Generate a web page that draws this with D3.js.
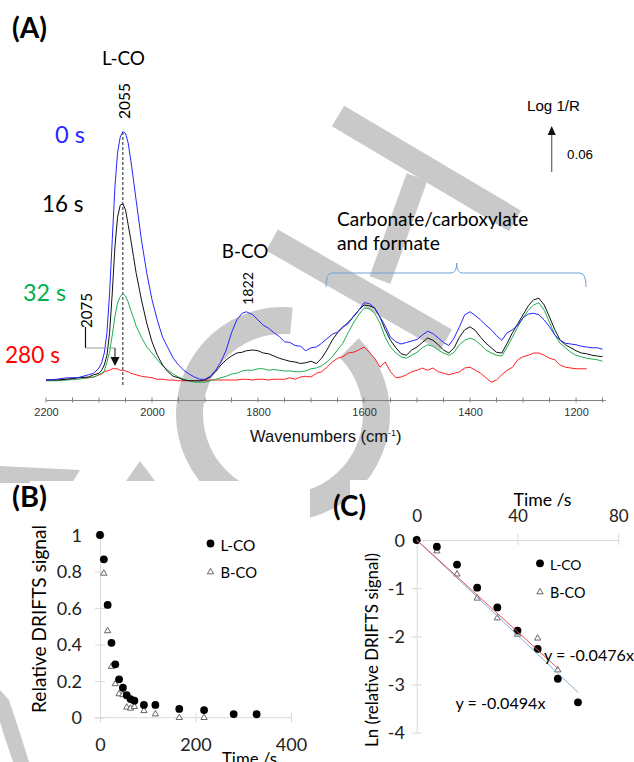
<!DOCTYPE html>
<html>
<head>
<meta charset="utf-8">
<script src="https://cdn.jsdelivr.net/npm/d3@7"></script>
<style>
  body { margin: 0; background: #fff; }
</style>
</head>
<body>
<svg id="fig" width="634" height="762"></svg>
<script>
// ---- panel A: DRIFTS spectra (Log 1/R) ----
var waveNumbers = [2200, 2180, 2160, 2140, 2120, 2110, 2100, 2095,
  2090, 2085, 2080, 2075, 2070, 2065, 2060, 2055, 2050, 2045, 2040, 2035, 2030,
  2020, 2010, 2000, 1990, 1980, 1970, 1960, 1950, 1940, 1930, 1920, 1910, 1900, 1890, 1880, 1870, 1860, 1850, 1840, 1830,
  1822,
  1810, 1800, 1790, 1780, 1770, 1760, 1750, 1740, 1730, 1720,
  1710, 1700, 1690, 1680, 1670, 1660, 1650, 1640, 1630, 1620,
  1610, 1600, 1590, 1580, 1570, 1560, 1550, 1540, 1530, 1520,
  1510, 1500, 1490, 1480, 1470, 1460, 1450, 1440, 1430, 1420,
  1410, 1400, 1390, 1380, 1370, 1360, 1350, 1340, 1330, 1320,
  1310, 1300, 1290, 1280, 1270, 1260, 1250, 1240, 1230, 1220,
  1210, 1200, 1190, 1180, 1170, 1160, 1150];

var spec0s = [0, 0.001, 0.003, 0.003, 0.007, 0.009, 0.016, 0.023,
  0.036, 0.063, 0.116, 0.187, 0.257, 0.303, 0.324, 0.331, 0.329, 0.316, 0.293, 0.267, 0.240,
  0.187, 0.143, 0.107, 0.080, 0.057, 0.043, 0.029, 0.020, 0.013, 0.008, 0.004, 0.001, 0.001, 0.005, 0.013, 0.024, 0.040, 0.063, 0.080, 0.089,
  0.091,
  0.087, 0.080, 0.073, 0.069, 0.063, 0.058, 0.051, 0.050, 0.046, 0.045,
  0.039, 0.043, 0.044, 0.049, 0.055, 0.061, 0.064, 0.071, 0.075, 0.085,
  0.093, 0.103, 0.102, 0.096, 0.084, 0.072, 0.057, 0.051, 0.048, 0.050,
  0.052, 0.054, 0.060, 0.065, 0.062, 0.056, 0.050, 0.046, 0.056, 0.071,
  0.087, 0.091, 0.086, 0.080, 0.073, 0.067, 0.059, 0.053, 0.063, 0.067,
  0.073, 0.083, 0.088, 0.089, 0.087, 0.080, 0.071, 0.060, 0.053, 0.049,
  0.048, 0.047, 0.045, 0.044, 0.043, 0.043, 0.041];

var spec16s = [0, 0, 0.001, 0.003, 0.004, 0.007, 0.009, 0.013,
  0.020, 0.033, 0.063, 0.116, 0.177, 0.217, 0.233, 0.235, 0.227, 0.207, 0.187, 0.165, 0.143,
  0.107, 0.076, 0.051, 0.033, 0.020, 0.011, 0.005, 0.003, 0, -0.001, -0.001, -0.001, 0, 0.004, 0.011, 0.020, 0.027, 0.032, 0.036, 0.037,
  0.039,
  0.040, 0.039, 0.036, 0.035, 0.032, 0.029, 0.027, 0.025, 0.024, 0.022,
  0.023, 0.025, 0.022, 0.029, 0.040, 0.053, 0.063, 0.070, 0.077, 0.084,
  0.093, 0.100, 0.099, 0.096, 0.084, 0.067, 0.053, 0.043, 0.035, 0.033,
  0.040, 0.044, 0.050, 0.056, 0.053, 0.047, 0.040, 0.036, 0.043, 0.057,
  0.067, 0.071, 0.066, 0.057, 0.049, 0.043, 0.037, 0.036, 0.049, 0.063,
  0.075, 0.087, 0.099, 0.107, 0.109, 0.100, 0.084, 0.067, 0.053, 0.047,
  0.043, 0.039, 0.036, 0.035, 0.033, 0.032, 0.031];

var spec32s = [-0.001, -0.001, 0, 0.001, 0.003, 0.004, 0.007, 0.009,
  0.012, 0.024, 0.037, 0.060, 0.084, 0.103, 0.111, 0.115, 0.112, 0.104, 0.093, 0.083, 0.072,
  0.057, 0.044, 0.036, 0.027, 0.019, 0.013, 0.008, 0.004, 0.001, -0.001, -0.003, -0.003, -0.003, -0.001, 0.001, 0.003, 0.005, 0.008, 0.009, 0.012,
  0.013,
  0.013, 0.015, 0.015, 0.013, 0.014, 0.013, 0.012, 0.012, 0.011, 0.011,
  0.012, 0.015, 0.016, 0.019, 0.024, 0.031, 0.040, 0.049, 0.063, 0.076,
  0.087, 0.096, 0.095, 0.089, 0.076, 0.057, 0.044, 0.036, 0.031, 0.029,
  0.033, 0.037, 0.043, 0.047, 0.045, 0.040, 0.036, 0.033, 0.037, 0.047,
  0.053, 0.056, 0.053, 0.047, 0.040, 0.036, 0.033, 0.032, 0.044, 0.057,
  0.071, 0.083, 0.093, 0.100, 0.103, 0.093, 0.077, 0.060, 0.049, 0.043,
  0.037, 0.033, 0.031, 0.029, 0.028, 0.027, 0.025];

var spec280s = [0, 0, 0.001, 0.003, 0.003, 0.004, 0.007, 0.008,
  0.011, 0.012, 0.013, 0.015, 0.015, 0.015, 0.013, 0.013, 0.012, 0.011, 0.009, 0.008, 0.007,
  0.005, 0.004, 0.003, 0.001, 0.001, 0, 0, -0.001, -0.001, -0.001, -0.001, -0.001, -0.001, 0, 0, 0, 0, 0, 0, 0.001,
  0.001,
  0, 0.001, 0.001, 0, 0.001, 0.001, 0.001, 0.003, 0.001, 0.004,
  0.005, 0.004, 0.009, 0.011, 0.017, 0.024, 0.029, 0.031, 0.036, 0.037,
  0.040, 0.044, 0.037, 0.029, 0.017, 0.024, 0.011, 0.003, 0.004, 0.007,
  0.011, 0.013, 0.016, 0.013, 0.016, 0.011, 0.009, 0.007, 0.009, 0.011,
  0.016, 0.017, 0.013, 0.009, 0.003, -0.003, 0, 0.007, 0.013, 0.017,
  0.027, 0.031, 0.033, 0.036, 0.036, 0.033, 0.029, 0.027, 0.020, 0.017,
  0.016, 0.015, 0.015, 0.015, null, null, null];

var specLabels = ["0 s", "16 s", "32 s", "280 s"];
var specColors = ["#2525ff", "#111111", "#1fae50", "#ff2020"];
var wnTicks = [2200, 2000, 1800, 1600, 1400, 1200];

// ---- panel B: relative DRIFTS signal vs time ----
var timeL = [0, 8, 16, 24, 32, 40, 48, 56, 64, 72, 92, 116, 166, 218, 280, 328];
var relL = [1.0, 0.867, 0.617, 0.41, 0.292, 0.21, 0.164, 0.123, 0.102, 0.093, 0.07, 0.07, 0.048, 0.042, 0.02, 0.019];
var timeB = [0, 8, 16, 24, 32, 40, 48, 56, 64, 72, 92, 116, 166, 218];
var relB = [1.0, 0.79, 0.475, 0.28, 0.185, 0.13, 0.125, 0.057, 0.051, 0.06, 0.038, 0.02, 0, 0];
var relTicks = [0, 0.2, 0.4, 0.6, 0.8, 1];
var timeTicksB = [0, 200, 400];

// ---- panel C: ln(relative signal), first 64 s ----
var timeCL = [0, 8, 16, 24, 32, 40, 48, 56, 64];
var lnL = [0, -0.14, -0.51, -0.99, -1.40, -1.88, -2.26, -2.88, -3.37];
var timeCB = [0, 8, 16, 24, 32, 40, 48, 56];
var lnB = [0, -0.23, -0.71, -1.21, -1.62, -1.96, -2.04, -2.70];
var fitSlopes = [-0.0494, -0.0476];
var fitEnds = [64, 56];
var fitColors = ["#7cb0e0", "#e8504a"];
var lnTicks = [0, -1, -2, -3, -4];
var timeTicksC = [0, 40, 80];

var CAL = "Lato, 'Open Sans', sans-serif";
var ARI = "'Liberation Sans', Arial, sans-serif";

var svg = d3.select("#fig");
svg.append("rect").attr("width", 634).attr("height", 762).attr("fill", "#fff");

function fit(sel, w) {
  var len = sel.node().getComputedTextLength();
  var fs = parseFloat(sel.attr("font-size"));
  if (len > 0) sel.attr("font-size", (fs * w / len).toFixed(2));
  return sel;
}

function txt(g, s, x, y, o) {
  o = o || {};
  var t = g.append("text")
      .attr("font-size", o.size || 16)
      .attr("font-family", o.font || CAL)
      .attr("fill", o.color || "#000")
      .attr("text-anchor", o.anchor || "start")
      .text(s);
  if (o.weight) t.attr("font-weight", o.weight);
  if (o.rotate) t.attr("transform", "translate(" + x + "," + y + ") rotate(-90)");
  else t.attr("x", x).attr("y", y);
  if (o.w) fit(t, o.w);
  return t;
}

// watermark behind everything
var wm = svg.append("g").attr("class", "watermark");
var WM = "#c9c9c9";
wm.append("path")
    .attr("transform", "translate(283,414)")
    .attr("fill", WM)
    .attr("d", d3.arc()({innerRadius: 80, outerRadius: 107, startAngle: Math.PI / 4, endAngle: 2 * Math.PI + 0.09}));
[[338, 116, 515, 221, 24], [272, 240, 446, 340, 24], [417, 177, 380, 280, 22]].forEach(function (b) {
  wm.append("line").attr("x1", b[0]).attr("y1", b[1]).attr("x2", b[2]).attr("y2", b[3])
      .attr("stroke", WM).attr("stroke-width", b[4]);
});
[[[140, 461], [126, 481], [155, 481]],
 [[0, 466], [80, 470], [72, 483], [0, 483]],
 [[0, 690], [9, 700], [19, 730], [29, 762], [13, 762], [4, 735], [0, 722]]].forEach(function (p) {
  wm.append("path").attr("fill", WM).attr("d", "M" + p.join("L") + "Z");
});
// chart areas of B and C hide the watermark
svg.append("rect").attr("x", 30).attr("y", 481).attr("width", 280).attr("height", 281).attr("fill", "#fff");
svg.append("rect").attr("x", 350).attr("y", 480).attr("width", 284).attr("height", 282).attr("fill", "#fff");

// ================= panel A =================
var gA = svg.append("g");
var xA = d3.scaleLinear().domain([2200, 1145]).range([46, 605.2]);
var yA = d3.scaleLinear().domain([0, 0.06]).range([380, 335]);

var axA = gA.append("g").attr("transform", "translate(0,400)")
    .call(d3.axisBottom(xA).tickValues(wnTicks).tickFormat(d3.format("d"))
      .tickSize(0).tickSizeOuter(0).tickPadding(8));
axA.select(".domain").attr("stroke", "#808080");
axA.selectAll("text").attr("font-family", ARI).attr("font-size", 11).attr("fill", "#333");
gA.append("g").selectAll("line")
    .data(d3.range(2200, 1149, -50))
    .join("line")
      .attr("x1", function (d) { return xA(d); })
      .attr("x2", function (d) { return xA(d); })
      .attr("y1", 397.5).attr("y2", 402.5)
      .attr("stroke", "#808080");

// dotted marker at 2055
gA.append("line")
    .attr("x1", xA(2055)).attr("x2", xA(2055))
    .attr("y1", 132).attr("y2", 386)
    .attr("stroke", "#222").attr("stroke-dasharray", "3,2");

var specLine = d3.line()
    .defined(function (d) { return d[1] !== null; })
    .x(function (d) { return xA(d[0]); })
    .y(function (d) { return yA(d[1]); });

var specs = [spec0s, spec16s, spec32s, spec280s];
[3, 2, 1, 0].forEach(function (i) {
  gA.append("path")
      .datum(waveNumbers.map(function (w, j) { return [w, specs[i][j]]; }))
      .attr("fill", "none")
      .attr("stroke", specColors[i])
      .attr("stroke-width", 1)
      .attr("stroke-linejoin", "round")
      .attr("d", specLine);
});

txt(gA, "(A)", 12, 38, {weight: 700, size: 22, w: 35});
txt(gA, "L-CO", 123.5, 65, {anchor: "middle", size: 20, w: 43});
txt(gA, "2055", 130, 101, {anchor: "middle", size: 15, rotate: true, w: 36});
txt(gA, specLabels[0], 85, 143, {anchor: "end", size: 23, color: specColors[0], w: 30});
txt(gA, specLabels[1], 42, 212, {size: 23, color: "#000", w: 41.5});
txt(gA, specLabels[2], 23, 301, {size: 23, color: "#00b050", w: 43});
txt(gA, specLabels[3], 5, 363, {size: 23, color: "#ff0000", w: 55});
txt(gA, "2075", 92, 310.5, {anchor: "middle", size: 15, rotate: true, w: 35});
txt(gA, "B-CO", 245, 258, {anchor: "middle", size: 20, w: 46.5});
txt(gA, "1822", 253, 288.5, {anchor: "middle", size: 15, rotate: true, w: 33});
txt(gA, "Carbonate/carboxylate", 337, 226, {size: 17, w: 191.5});
txt(gA, "and formate", 337, 250, {size: 17, w: 103});

// 2075 pointer
gA.append("line").attr("x1", 85.5).attr("x2", 85.5).attr("y1", 327).attr("y2", 348).attr("stroke", "#111").attr("stroke-width", 1.2);
gA.append("line").attr("x1", 85.5).attr("x2", 115).attr("y1", 348).attr("y2", 348).attr("stroke", "#999");
gA.append("line").attr("x1", 115).attr("x2", 115).attr("y1", 348).attr("y2", 358).attr("stroke", "#111");
gA.append("path").attr("d", "M110.5,357L119.5,357L115,366Z").attr("fill", "#111");

// carbonate bracket
gA.append("path")
    .attr("d", "M326,287Q326,273 332,273L451,273Q456.7,273 456.7,263Q456.7,273 462.4,273L580,273Q586,273 586,287")
    .attr("fill", "none").attr("stroke", "#6aa3d8").attr("stroke-width", 1);

// scale bar
txt(gA, "Log 1/R", 527, 111, {font: ARI, size: 14, w: 53});
gA.append("line").attr("x1", 551.7).attr("x2", 551.7).attr("y1", 172).attr("y2", 133).attr("stroke", "#666").attr("stroke-width", 1.2);
gA.append("path").attr("d", "M547.7,135L555.7,135L551.7,126Z").attr("fill", "#111");
txt(gA, "0.06", 567, 159, {font: ARI, size: 13, w: 26});

var wl = gA.append("text").attr("x", 250).attr("y", 441.5)
    .attr("font-family", ARI).attr("font-size", 16).attr("fill", "#111");
wl.append("tspan").text("Wavenumbers (cm");
wl.append("tspan").attr("dy", -6).attr("font-size", 9).text("-1");
wl.append("tspan").attr("dy", 6).text(")");
fit(wl, 152);

// ================= panel B =================
var gB = svg.append("g");
var xB = d3.scaleLinear().domain([0, 400]).range([100, 291]);
var yB = d3.scaleLinear().domain([0, 1]).range([717.7, 535]);
var GRID = "#d9d9d9";

var axBx = gB.append("g").attr("transform", "translate(0," + yB(0) + ")")
    .call(d3.axisBottom(xB).tickValues(timeTicksB).tickSize(5).tickSizeOuter(0));
axBx.select(".domain").attr("stroke", GRID).attr("d", "M95,0H292");
axBx.selectAll(".tick line").attr("y1", -5).attr("y2", 5).attr("stroke", GRID);
axBx.selectAll("text").attr("y", 33.3).attr("dy", null)
    .attr("font-family", CAL).attr("font-size", 18).attr("fill", "#222");

var axBy = gB.append("g").attr("transform", "translate(" + xB(0) + ",0)")
    .call(d3.axisLeft(yB).tickValues(relTicks).tickFormat(d3.format("~g")).tickSize(5).tickSizeOuter(0));
axBy.select(".domain").attr("stroke", GRID);
axBy.selectAll(".tick line").attr("x1", -5).attr("x2", 5).attr("stroke", GRID);
axBy.selectAll("text").attr("x", -18).attr("dy", "0.34em")
    .attr("font-family", CAL).attr("font-size", 18).attr("fill", "#222");

var tri = d3.symbol().type(d3.symbolTriangle).size(17);
gB.append("g").selectAll("path")
    .data(timeB.map(function (t, i) { return [t, relB[i]]; }))
    .join("path")
      .attr("transform", function (d) { return "translate(" + xB(d[0]) + "," + yB(d[1]) + ")"; })
      .attr("d", tri)
      .attr("fill", "#fff").attr("stroke", "#555").attr("stroke-width", 0.9);
gB.append("g").selectAll("circle")
    .data(timeL.map(function (t, i) { return [t, relL[i]]; }))
    .join("circle")
      .attr("cx", function (d) { return xB(d[0]); })
      .attr("cy", function (d) { return yB(d[1]); })
      .attr("r", 3.9)
      .attr("fill", "#000");

gB.append("circle").attr("cx", 210.5).attr("cy", 543.5).attr("r", 3.9).attr("fill", "#000");
gB.append("path").attr("transform", "translate(210.5,572)").attr("d", tri).attr("fill", "#fff").attr("stroke", "#555").attr("stroke-width", 0.9);
txt(gB, "L-CO", 220.5, 551, {size: 18, w: 35});
txt(gB, "B-CO", 220.5, 578, {size: 18, w: 36.5});
txt(gB, "(B)", 12, 507, {weight: 700, size: 22, w: 35});
txt(gB, "Relative DRIFTS signal", 46, 619, {anchor: "middle", size: 19, rotate: true, w: 188});
txt(gB, "Time /s", 249.5, 765, {anchor: "middle", size: 18, w: 55});

// ================= panel C =================
var gC = svg.append("g");
var xC = d3.scaleLinear().domain([0, 80]).range([416.7, 618.3]);
var yC = d3.scaleLinear().domain([0, -4]).range([540, 732.7]);

var axCx = gC.append("g").attr("transform", "translate(0," + yC(0) + ")")
    .call(d3.axisTop(xC).tickValues(timeTicksC).tickSize(6).tickSizeOuter(0));
axCx.select(".domain").attr("stroke", GRID);
axCx.selectAll(".tick line").attr("y1", 5).attr("y2", -6).attr("stroke", GRID);
axCx.selectAll("text").attr("y", -18).attr("dy", null)
    .attr("font-family", CAL).attr("font-size", 17).attr("fill", "#222");

var axCy = gC.append("g").attr("transform", "translate(" + xC(0) + ",0)")
    .call(d3.axisLeft(yC).tickValues(lnTicks).tickFormat(function (d) { return String(d); }).tickSize(5).tickSizeOuter(0));
axCy.select(".domain").attr("stroke", GRID);
axCy.selectAll(".tick line").attr("x1", -5).attr("x2", 5).attr("stroke", GRID);
axCy.selectAll("text").attr("x", -11.7).attr("dy", "0.34em")
    .attr("font-family", CAL).attr("font-size", 18).attr("fill", "#222");

gC.append("g").selectAll("path")
    .data(timeCB.map(function (t, i) { return [t, lnB[i]]; }))
    .join("path")
      .attr("transform", function (d) { return "translate(" + xC(d[0]) + "," + yC(d[1]) + ")"; })
      .attr("d", tri)
      .attr("fill", "#fff").attr("stroke", "#555").attr("stroke-width", 0.9);
gC.append("g").selectAll("circle")
    .data(timeCL.map(function (t, i) { return [t, lnL[i]]; }))
    .join("circle")
      .attr("cx", function (d) { return xC(d[0]); })
      .attr("cy", function (d) { return yC(d[1]); })
      .attr("r", 3.9)
      .attr("fill", "#000");

// linear fits through the origin
gC.append("g").selectAll("line")
    .data(fitSlopes.map(function (s, i) { return {s: s, t: fitEnds[i], c: fitColors[i]}; }))
    .join("line")
      .attr("x1", xC(0)).attr("y1", yC(0))
      .attr("x2", function (d) { return xC(d.t); })
      .attr("y2", function (d) { return yC(d.s * d.t); })
      .attr("stroke", function (d) { return d.c; })
      .attr("stroke-width", 1);

gC.append("circle").attr("cx", 540).attr("cy", 563.3).attr("r", 3.9).attr("fill", "#000");
gC.append("path").attr("transform", "translate(540,592)").attr("d", tri).attr("fill", "#fff").attr("stroke", "#555").attr("stroke-width", 0.9);
txt(gC, "L-CO", 550, 569.5, {size: 17, w: 31.5});
txt(gC, "B-CO", 550, 597.5, {size: 17, w: 35.5});
txt(gC, "(C)", 333, 516, {weight: 700, size: 22, w: 33});
txt(gC, "Time /s", 542.5, 505.5, {anchor: "middle", size: 17, w: 58});
txt(gC, "Ln (relative DRIFTS signal)", 378, 650, {anchor: "middle", size: 17, rotate: true, w: 194});
txt(gC, "y = " + fitSlopes[1] + "x", 544, 660.5, {size: 17, w: 90});
txt(gC, "y = " + fitSlopes[0] + "x", 455.5, 709, {size: 17, w: 90});
</script>
</body>
</html>
